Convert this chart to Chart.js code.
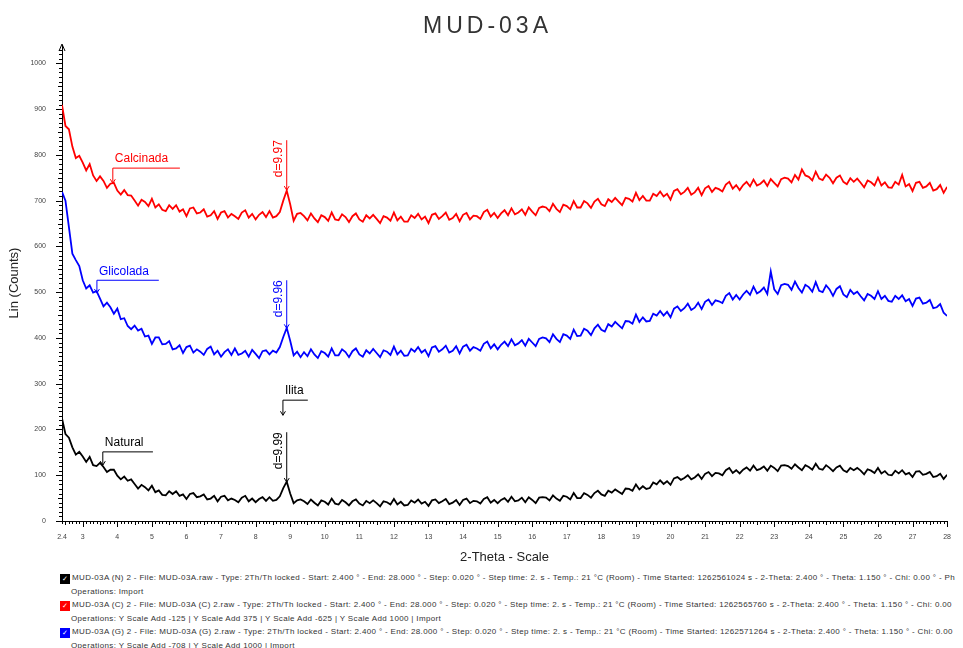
<!DOCTYPE html>
<html lang="en">
<head>
    <meta charset="UTF-8">
    <title>MUD-03A</title>
    <script src="https://cdn.jsdelivr.net/npm/chart.js"></script>
    <style>
        body {
            margin: 0;
            background: #fff;
            font-family: 'Liberation Sans', Arial, sans-serif;
        }
        #wrap {
            position: relative;
            width: 963px;
            height: 648px;
            overflow: hidden;
        }
        #xrdChart {
            position: absolute;
            left: 0;
            top: 0;
        }
        h1 {
            position: absolute;
            top: 12px;
            left: 0;
            width: 975px;
            margin: 0;
            text-align: center;
            font-size: 23px;
            font-weight: normal;
            letter-spacing: 4px;
            color: #333;
        }
        .legend {
            position: absolute;
            left: 60px;
            top: 571px;
            font-size: 8px;
            letter-spacing: 0.35px;
            line-height: 13.5px;
            color: #333;
            white-space: nowrap;
        }
        .legend .ops {
            padding-left: 11px;
        }
        .icon {
            display: inline-block;
            width: 8px;
            height: 8px;
            margin-right: 2px;
            vertical-align: -1px;
            border: 1px solid #000;
            color: #fff;
            font-size: 7px;
            line-height: 8px;
            letter-spacing: 0;
            text-align: center;
        }
    </style>
</head>
<body>
<div id="wrap">
    <canvas id="xrdChart" width="963" height="565"></canvas>
    <h1>MUD-03A</h1>
    <div class="legend">
        <div><span class="icon" style="background:#000">&#10003;</span>MUD-03A (N) 2 - File: MUD-03A.raw - Type: 2Th/Th locked - Start: 2.400 ° - End: 28.000 ° - Step: 0.020 ° - Step time: 2. s - Temp.: 21 °C (Room) - Time Started: 1262561024 s - 2-Theta: 2.400 ° - Theta: 1.150 ° - Chi: 0.00 ° - Ph</div>
        <div class="ops">Operations: Import</div>
        <div><span class="icon" style="background:#ff0000;border-color:#ff0000">&#10003;</span>MUD-03A (C) 2 - File: MUD-03A (C) 2.raw - Type: 2Th/Th locked - Start: 2.400 ° - End: 28.000 ° - Step: 0.020 ° - Step time: 2. s - Temp.: 21 °C (Room) - Time Started: 1262565760 s - 2-Theta: 2.400 ° - Theta: 1.150 ° - Chi: 0.00</div>
        <div class="ops">Operations: Y Scale Add -125 | Y Scale Add 375 | Y Scale Add -625 | Y Scale Add 1000 | Import</div>
        <div><span class="icon" style="background:#0000ff;border-color:#0000ff">&#10003;</span>MUD-03A (G) 2 - File: MUD-03A (G) 2.raw - Type: 2Th/Th locked - Start: 2.400 ° - End: 28.000 ° - Step: 0.020 ° - Step time: 2. s - Temp.: 21 °C (Room) - Time Started: 1262571264 s - 2-Theta: 2.400 ° - Theta: 1.150 ° - Chi: 0.00</div>
        <div class="ops">Operations: Y Scale Add -708 | Y Scale Add 1000 | Import</div>
    </div>
</div>

<script>
    // 2-theta sampling of the traces (read every 0.1 deg from the plot)
    const thetaStart = 2.4;
    const thetaStep = 0.1;

    const xTicks = [2.4, 3, 4, 5, 6, 7, 8, 9, 10, 11, 12, 13, 14, 15, 16, 17, 18, 19, 20, 21, 22, 23, 24, 25, 26, 27, 28];
    const yTicks = [0, 100, 200, 300, 400, 500, 600, 700, 800, 900, 1000];

    const calcinada = [
        909, 863, 856, 818, 793, 798, 783, 766, 780, 755,
        743, 753, 743, 728, 737, 739, 722, 713, 723, 712,
        711, 700, 689, 702, 697, 688, 704, 685, 692, 680,
        677, 690, 682, 690, 676, 681, 666, 683, 685, 672,
        674, 681, 665, 668, 677, 660, 674, 677, 663, 671,
        666, 660, 674, 679, 663, 671, 659, 669, 675, 664,
        677, 663, 666, 675, 700, 722, 692, 656, 671, 673,
        666, 657, 672, 661, 653, 668, 664, 656, 674, 659,
        657, 670, 664, 653, 666, 672, 659, 654, 668, 661,
        669, 660, 651, 666, 663, 656, 674, 657, 665, 654,
        654, 668, 662, 671, 659, 665, 651, 669, 672, 660,
        666, 674, 658, 662, 671, 655, 669, 673, 659, 667,
        666, 660, 675, 680, 665, 673, 662, 672, 679, 668,
        683, 670, 674, 681, 669, 685, 676, 668, 684, 687,
        685, 677, 693, 682, 675, 691, 688, 681, 699, 685,
        685, 699, 694, 684, 698, 704, 692, 688, 703, 697,
        706, 698, 690, 706, 704, 698, 717, 701, 710, 700,
        700, 715, 710, 720, 709, 715, 702, 721, 725, 714,
        719, 728, 713, 718, 728, 712, 727, 732, 719, 728,
        725, 720, 735, 741, 726, 734, 723, 734, 741, 731,
        746, 733, 737, 744, 732, 747, 739, 731, 747, 750,
        748, 740, 756, 746, 768, 755, 752, 744, 763, 748,
        745, 757, 750, 738, 750, 755, 741, 736, 749, 741,
        748, 739, 729, 744, 740, 733, 750, 733, 740, 729,
        728, 741, 735, 756, 731, 736, 721, 739, 741, 728,
        731, 739, 722, 725, 734, 717, 730
    ];

    const glicolada = [
        719, 700, 642, 584, 570, 557, 526, 508, 515, 499,
        502, 486, 469, 477, 467, 453, 464, 441, 443, 426,
        419, 427, 416, 420, 403, 405, 387, 401, 401, 386,
        387, 393, 375, 377, 384, 367, 380, 383, 368, 375,
        370, 363, 376, 381, 364, 372, 359, 369, 375, 363,
        377, 363, 366, 372, 359, 374, 365, 356, 371, 373,
        364, 372, 368, 380, 402, 422, 394, 362, 370, 358,
        369, 360, 375, 364, 356, 371, 367, 359, 377, 362,
        362, 375, 369, 358, 371, 377, 364, 359, 373, 366,
        376, 367, 358, 373, 370, 363, 381, 364, 372, 361,
        362, 376, 370, 380, 368, 374, 360, 379, 382, 370,
        375, 383, 368, 372, 382, 366, 381, 385, 372, 380,
        377, 372, 387, 392, 377, 386, 375, 385, 392, 382,
        397, 384, 388, 395, 383, 398, 390, 382, 398, 401,
        399, 391, 408, 398, 391, 408, 405, 398, 418, 404,
        405, 420, 416, 406, 421, 429, 418, 414, 430, 425,
        435, 428, 421, 437, 436, 431, 451, 435, 445, 436,
        437, 453, 449, 459, 449, 457, 445, 464, 469, 459,
        465, 475, 461, 466, 477, 463, 479, 484, 472, 482,
        480, 476, 492, 498, 484, 494, 484, 495, 503, 494,
        512, 497, 502, 510, 496, 545, 506, 496, 515, 518,
        516, 505, 523, 509, 499, 516, 511, 501, 522, 503,
        500, 515, 506, 492, 507, 513, 495, 489, 505, 496,
        501, 491, 482, 496, 492, 485, 502, 485, 492, 481,
        479, 492, 485, 493, 480, 485, 470, 486, 488, 475,
        477, 483, 465, 467, 474, 455, 448
    ];

    const natural = [
        224, 190, 182, 161, 145, 151, 141, 129, 140, 122,
        120, 127, 118, 107, 112, 112, 99, 91, 97, 88,
        91, 81, 71, 79, 74, 67, 77, 63, 67, 57,
        56, 65, 59, 65, 55, 58, 48, 59, 61, 52,
        54, 58, 47, 49, 55, 43, 53, 55, 45, 49,
        46, 41, 51, 55, 43, 49, 41, 48, 52, 44,
        52, 44, 46, 54, 72, 86, 60, 39, 45, 47,
        43, 37, 47, 40, 34, 45, 42, 36, 49, 38,
        36, 46, 41, 34, 43, 47, 38, 34, 44, 39,
        45, 39, 32, 43, 41, 36, 48, 36, 42, 34,
        35, 45, 40, 47, 38, 42, 33, 45, 47, 39,
        43, 48, 37, 40, 46, 35, 46, 49, 39, 44,
        43, 38, 48, 52, 40, 46, 39, 46, 50, 42,
        53, 43, 45, 51, 41, 52, 46, 39, 51, 52,
        51, 45, 56, 49, 44, 55, 53, 47, 61, 50,
        50, 61, 57, 51, 61, 66, 58, 55, 66, 62,
        69, 64, 59, 71, 70, 66, 80, 69, 76, 70,
        72, 84, 80, 89, 81, 87, 79, 93, 96, 90,
        94, 100, 91, 95, 102, 92, 103, 107, 98, 105,
        104, 100, 111, 116, 105, 111, 104, 112, 117, 110,
        121, 111, 114, 119, 110, 121, 116, 109, 121, 122,
        120, 114, 124, 117, 111, 122, 118, 112, 125, 114,
        112, 122, 116, 109, 117, 121, 111, 107, 116, 111,
        116, 110, 102, 113, 110, 105, 116, 104, 109, 101,
        100, 110, 104, 111, 102, 105, 96, 108, 109, 101,
        103, 107, 96, 98, 103, 92, 101
    ];

    // labelled brackets (text + hook arrow), in data units
    const tags = [
        { text: 'Calcinada', color: '#ff0000', x0: 3.87, x1: 5.81, yLine: 771, yTip: 738 },
        { text: 'Glicolada', color: '#0000ff', x0: 3.41, x1: 5.20, yLine: 526, yTip: 498 },
        { text: 'Natural', color: '#000000', x0: 3.58, x1: 5.03, yLine: 151, yTip: 122 },
        { text: 'Ilita', color: '#000000', x0: 8.79, x1: 9.51, yLine: 264, yTip: 231 }
    ];
    // d-spacing markers over the 8.9 deg peak
    const peaks = [
        { text: 'd=9.97', color: '#ff0000', x: 8.9, yTop: 832, yTip: 723 },
        { text: 'd=9.96', color: '#0000ff', x: 8.9, yTop: 526, yTip: 421 },
        { text: 'd=9.99', color: '#000000', x: 8.9, yTop: 194, yTip: 85 }
    ];

    function toPoints(values) {
        return values.map((v, i) => ({ x: +(thetaStart + i * thetaStep).toFixed(1), y: v }));
    }

    function arrowDown(ctx, x, y) {
        ctx.beginPath();
        ctx.moveTo(x - 2.5, y - 4);
        ctx.lineTo(x, y);
        ctx.lineTo(x + 2.5, y - 4);
        ctx.stroke();
    }

    const axisDecor = {
        id: 'axisDecor',
        afterDraw(chart) {
            const ctx = chart.ctx;
            const xs = chart.scales.x, ys = chart.scales.y;
            const area = chart.chartArea;
            ctx.save();
            ctx.strokeStyle = '#000';
            ctx.lineWidth = 1;
            // x ruler ticks every 0.1
            for (let i = 0; i <= 256; i++) {
                const v = thetaStart + i * thetaStep;
                const px = Math.round(xs.getPixelForValue(v)) + 0.5;
                const major = Math.abs(v - Math.round(v)) < 1e-6;
                const half = Math.abs(v * 2 - Math.round(v * 2)) < 1e-6;
                const len = major ? 6 : (half ? 4 : 3);
                ctx.beginPath();
                ctx.moveTo(px, area.bottom);
                ctx.lineTo(px, area.bottom + len);
                ctx.stroke();
            }
            // y ticks every 10
            for (let v = 0; v <= 1030; v += 10) {
                const py = Math.round(ys.getPixelForValue(v)) + 0.5;
                const len = v % 100 === 0 ? 6 : (v % 50 === 0 ? 4 : 3);
                ctx.beginPath();
                ctx.moveTo(area.left - len, py);
                ctx.lineTo(area.left, py);
                ctx.stroke();
            }
            // arrow head on top of y axis
            ctx.beginPath();
            ctx.moveTo(area.left - 3, area.top + 6);
            ctx.lineTo(area.left, area.top - 1);
            ctx.lineTo(area.left + 3, area.top + 6);
            ctx.stroke();
            ctx.restore();
        }
    };

    const markers = {
        id: 'markers',
        afterDatasetsDraw(chart) {
            const ctx = chart.ctx;
            const xs = chart.scales.x, ys = chart.scales.y;
            ctx.save();
            ctx.lineWidth = 1;
            ctx.font = '12px "Liberation Sans", Arial, sans-serif';
            tags.forEach(t => {
                const x0 = xs.getPixelForValue(t.x0), x1 = xs.getPixelForValue(t.x1);
                const yl = ys.getPixelForValue(t.yLine), yt = ys.getPixelForValue(t.yTip);
                ctx.strokeStyle = t.color;
                ctx.fillStyle = t.color;
                ctx.beginPath();
                ctx.moveTo(x1, yl);
                ctx.lineTo(x0, yl);
                ctx.lineTo(x0, yt);
                ctx.stroke();
                arrowDown(ctx, x0, yt);
                ctx.textAlign = 'left';
                ctx.textBaseline = 'bottom';
                ctx.fillText(t.text, x0 + 2, yl - 3);
            });
            peaks.forEach(p => {
                const px = xs.getPixelForValue(p.x);
                const y0 = ys.getPixelForValue(p.yTop), y1 = ys.getPixelForValue(p.yTip);
                ctx.strokeStyle = p.color;
                ctx.fillStyle = p.color;
                ctx.beginPath();
                ctx.moveTo(px, y0);
                ctx.lineTo(px, y1);
                ctx.stroke();
                arrowDown(ctx, px, y1);
                ctx.save();
                ctx.translate(px - 2, y0);
                ctx.rotate(-Math.PI / 2);
                ctx.textAlign = 'right';
                ctx.textBaseline = 'bottom';
                ctx.fillText(p.text, 0, 0);
                ctx.restore();
            });
            ctx.restore();
        }
    };

    const ctx = document.getElementById('xrdChart').getContext('2d');
    new Chart(ctx, {
        type: 'line',
        data: {
            datasets: [
                { label: 'Calcinada', data: toPoints(calcinada), borderColor: '#ff0000' },
                { label: 'Glicolada', data: toPoints(glicolada), borderColor: '#0000ff' },
                { label: 'Natural', data: toPoints(natural), borderColor: '#000000' }
            ]
        },
        options: {
            responsive: false,
            animation: false,
            datasets: {
                line: { borderWidth: 1.8, pointRadius: 0, tension: 0, fill: false }
            },
            layout: { padding: { top: 45, right: 15, left: 0, bottom: 0 } },
            plugins: {
                legend: { display: false },
                tooltip: { enabled: false }
            },
            scales: {
                x: {
                    type: 'linear',
                    min: 2.4,
                    max: 28,
                    afterBuildTicks: s => { s.ticks = xTicks.map(v => ({ value: v })); },
                    afterFit: s => { s.height = 44; },
                    grid: { drawOnChartArea: false, drawTicks: false },
                    border: { color: '#000' },
                    ticks: {
                        autoSkip: false,
                        maxRotation: 0,
                        padding: 12,
                        color: '#444',
                        font: { size: 7 },
                        callback: v => (v === 2.4 ? '2.4' : String(v))
                    },
                    title: {
                        display: true,
                        text: '2-Theta - Scale',
                        color: '#222',
                        font: { size: 13 },
                        padding: { top: 5, bottom: 0 }
                    }
                },
                y: {
                    min: 0,
                    max: 1040,
                    afterBuildTicks: s => { s.ticks = yTicks.map(v => ({ value: v })); },
                    afterFit: s => { s.width = 62; },
                    grid: { drawOnChartArea: false, drawTicks: false },
                    border: { color: '#000' },
                    ticks: {
                        padding: 16,
                        color: '#444',
                        font: { size: 7 },
                        callback: v => String(v)
                    },
                    title: {
                        display: true,
                        text: 'Lin (Counts)',
                        color: '#222',
                        font: { size: 13 },
                        padding: { top: 7, bottom: 0 }
                    }
                }
            }
        },
        plugins: [axisDecor, markers]
    });
</script>
</body>
</html>
